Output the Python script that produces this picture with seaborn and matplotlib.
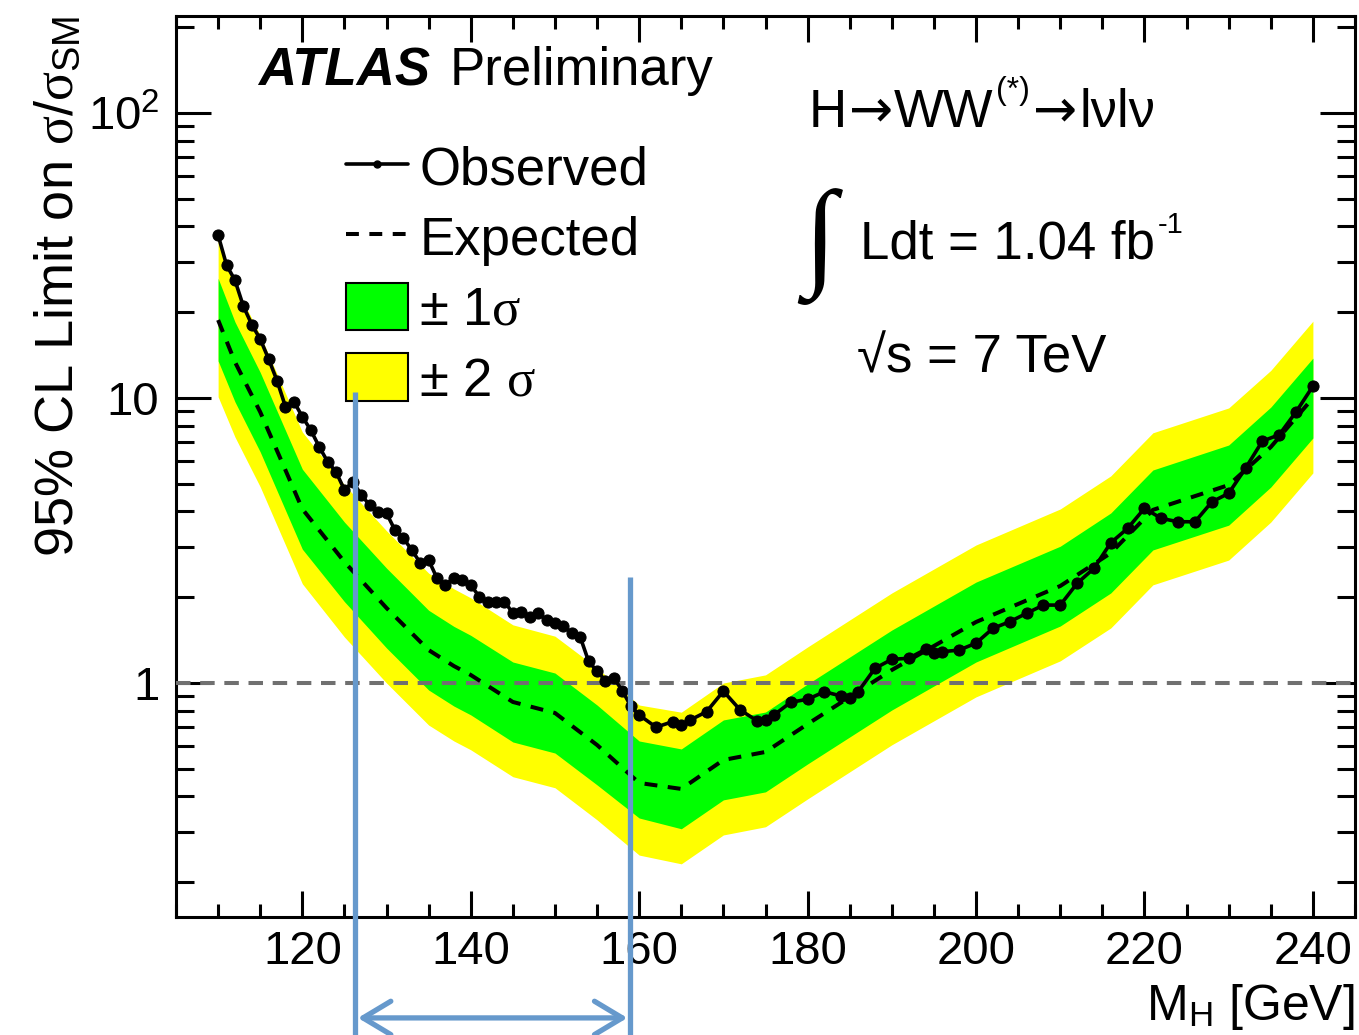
import numpy as np
import pandas as pd
import matplotlib
matplotlib.use("Agg")
import matplotlib.pyplot as plt
import matplotlib.transforms as mtransforms
from matplotlib.lines import Line2D
from matplotlib.patches import Patch
from matplotlib.ticker import FixedLocator, FixedFormatter, MultipleLocator, NullFormatter, LogLocator
import seaborn as sns

# ---------------- data ----------------
obs_mass = [110, 111, 112, 113, 114, 115, 116, 117, 118, 119,
            120, 121, 122, 123, 124, 125, 126, 127, 128, 129,
            130, 131, 132, 133, 134, 135, 136, 137, 138, 139,
            140, 141, 142, 143, 144, 145, 146, 147, 148, 149,
            150, 151, 152, 153, 154, 155, 156, 157, 158, 159,
            160, 162, 164, 165, 166, 168, 170, 172, 174, 175,
            176, 178, 180, 182, 184, 185, 186, 188, 190, 192,
            194, 195, 196, 198, 200, 202, 204, 206, 208, 210,
            212, 214, 216, 218, 220, 222, 224, 226, 228, 230,
            232, 234, 236, 238, 240]
obs_limit = [37.3, 29.3, 25.9, 21.0, 18.1, 16.1, 13.7, 11.5, 9.32, 9.71,
             8.60, 7.72, 6.75, 5.98, 5.51, 4.76, 5.09, 4.57, 4.21, 3.99,
             3.94, 3.44, 3.22, 2.93, 2.64, 2.70, 2.33, 2.21, 2.34, 2.30,
             2.21, 2.01, 1.93, 1.93, 1.93, 1.76, 1.78, 1.71, 1.76, 1.66,
             1.62, 1.58, 1.50, 1.45, 1.19, 1.10, 1.02, 1.04, 0.94, 0.83,
             0.772, 0.70, 0.732, 0.71, 0.74, 0.793, 0.936, 0.804, 0.737, 0.744,
             0.772, 0.856, 0.877, 0.932, 0.900, 0.884, 0.932, 1.126, 1.211, 1.221,
             1.313, 1.277, 1.288, 1.305, 1.38, 1.555, 1.641, 1.756, 1.877, 1.877,
             2.237, 2.525, 3.105, 3.489, 4.10, 3.78, 3.68, 3.68, 4.32, 4.63,
             5.67, 7.06, 7.43, 8.94, 11.0]

exp_mass = [110, 112, 115, 120, 125, 130, 135, 138, 140, 145, 150, 155,
            160, 165, 170, 175, 180, 190, 200, 210, 216, 221, 230, 235, 240]
exp_median = [18.78, 13.38, 8.93, 4.08, 2.66, 1.833, 1.305, 1.147, 1.067, 0.858, 0.785, 0.606,
              0.446, 0.425, 0.537, 0.573, 0.718, 1.111, 1.637, 2.19, 2.858, 4.05, 4.95, 6.73, 10.0]
exp_plus2 = [36.4, 24.9, 16.6, 7.6, 4.96, 3.42, 2.43, 2.14, 1.99, 1.60, 1.46, 1.13,
             0.837, 0.79, 1.0, 1.068, 1.338, 2.07, 3.05, 4.08, 5.33, 7.55, 9.23, 12.5, 18.6]
exp_plus1 = [26.3, 18.5, 12.3, 5.63, 3.67, 2.53, 1.80, 1.58, 1.47, 1.185, 1.084, 0.837,
             0.626, 0.587, 0.742, 0.791, 0.992, 1.534, 2.26, 3.02, 3.95, 5.59, 6.84, 9.29, 13.8]
exp_minus1 = [13.5, 9.7, 6.47, 2.95, 1.93, 1.327, 0.945, 0.830, 0.773, 0.621, 0.568, 0.439,
              0.336, 0.308, 0.389, 0.415, 0.520, 0.804, 1.185, 1.585, 2.07, 2.93, 3.58, 4.87, 7.24]
exp_minus2 = [10.1, 7.3, 4.88, 2.23, 1.45, 1.0, 0.712, 0.626, 0.583, 0.469, 0.429, 0.331,
              0.249, 0.232, 0.293, 0.313, 0.392, 0.607, 0.894, 1.196, 1.56, 2.21, 2.70, 3.67, 5.46]

y_tick_values = [1, 10, 100]
y_tick_labels = ["1", "10", r"$\mathregular{10^{2}}$"]
x_limits = [105, 245]
y_limits = [0.151, 219]
sm_reference = 1.0

# blue annotation (mass range marked below the axis)
marker_lines_mass = [126.3, 158.9]
marker_lines_top = [0.583, 0.377]   # axes fraction
arrow_mass = [126.6, 158.6]

legend_labels = ["Observed", "Expected", r"± 1$\sigma$", r"± 2 $\sigma$"]

# ---------------- style ----------------
sns.set_theme(style="ticks")
fam = ["Liberation Sans", "DejaVu Sans"]
plt.rcParams["font.family"] = fam
plt.rcParams["mathtext.fontset"] = "custom"
plt.rcParams["mathtext.rm"] = "Liberation Sans"
plt.rcParams["mathtext.it"] = "Liberation Serif"
plt.rcParams["mathtext.bf"] = "Liberation Sans:bold"
plt.rcParams["axes.linewidth"] = 2.2
plt.rcParams["axes.edgecolor"] = "black"
plt.rcParams["text.color"] = "black"
plt.rcParams["axes.labelcolor"] = "black"
plt.rcParams["xtick.color"] = "black"
plt.rcParams["ytick.color"] = "black"

fig = plt.figure(figsize=(13.59, 10.35), dpi=100)
ax = fig.add_axes([176 / 1359, (1035 - 917) / 1035, 1179 / 1359, 901 / 1035])

df_obs = pd.DataFrame({"mass": obs_mass, "limit": obs_limit})
df_exp = pd.DataFrame({"mass": exp_mass, "limit": exp_median})

ax.fill_between(exp_mass, exp_minus2, exp_plus2, color="#FFFF00", lw=0, zorder=1)
ax.fill_between(exp_mass, exp_minus1, exp_plus1, color="#00FF00", lw=0, zorder=2)
ax.axhline(sm_reference, color="#707070", lw=2.9, ls=(0, (3.6, 2.4)), zorder=3)

dash = (0, (3.2, 2.6))
sns.lineplot(data=df_exp, x="mass", y="limit", ax=ax, color="black", lw=2.9,
             linestyle=dash, zorder=4, legend=False)
sns.lineplot(data=df_obs, x="mass", y="limit", ax=ax, color="black", lw=2.6,
             marker="o", markersize=8, markeredgecolor="black", zorder=5, legend=False)

ax.set_yscale("log")
ax.set_xlim(*x_limits)
ax.set_ylim(*y_limits)

ax.xaxis.set_major_locator(MultipleLocator(20))
ax.xaxis.set_minor_locator(MultipleLocator(5))
ax.yaxis.set_major_locator(FixedLocator(y_tick_values))
ax.yaxis.set_major_formatter(FixedFormatter(y_tick_labels))
ax.yaxis.set_minor_locator(LogLocator(base=10, subs=np.arange(2, 10) * 1.0, numticks=20))
ax.yaxis.set_minor_formatter(NullFormatter())

ax.tick_params(which="both", direction="in", top=True, right=True, width=2.2, colors="black")
ax.tick_params(axis="x", which="major", length=19, labelsize=34, pad=9)
ax.tick_params(axis="x", which="minor", length=9.5)
ax.tick_params(axis="y", which="major", length=25, labelsize=34, pad=12)
ax.tick_params(axis="y", which="minor", length=13)

ax.set_xlabel(r"M$_{\rm H}$ [GeV]", fontsize=36, loc="right", labelpad=6)
ax.set_ylabel(r"95% CL Limit on $\sigma$/$\sigma_{\rm SM}$", fontsize=39, loc="top", labelpad=3)

# ---------------- legend ----------------
handles = [
    Line2D([], [], color="black", lw=2.6, marker="o", markersize=5),
    Line2D([], [], color="black", lw=2.9, linestyle=dash),
    Patch(facecolor="#00FF00", edgecolor="black", lw=1.5),
    Patch(facecolor="#FFFF00", edgecolor="black", lw=1.5),
]
ax.legend(handles, legend_labels, loc="upper left", bbox_to_anchor=(0.144, 0.859),
          frameon=False, fontsize=38, handlelength=1.17, handleheight=1.0,
          handletextpad=0.22, labelspacing=0.33, borderpad=0, borderaxespad=0)

# ---------------- texts ----------------
ax.text(0.0696, 0.923, "ATLAS", transform=ax.transAxes, fontsize=38,
        fontweight="bold", fontstyle="italic", ha="left", va="baseline")
ax.text(0.232, 0.923, "Preliminary", transform=ax.transAxes, fontsize=38,
        ha="left", va="baseline")


def chain_text(pieces, x0, y0):
    """Write consecutive text pieces on one baseline (axes coords)."""
    prev = None
    for txt, size, family, dx, dy in pieces:
        if prev is None:
            prev = ax.text(x0, y0, txt, transform=ax.transAxes, fontsize=size,
                           family=family, ha="left", va="baseline")
        else:
            prev = ax.annotate(txt, xy=(1, y0), xycoords=(prev, ax.transAxes),
                               xytext=(dx, dy), textcoords="offset points",
                               fontsize=size, family=family,
                               ha="left", va="baseline")
    return prev


chain_text([("H", 38, fam, 0, 0),
            ("→", 38, ["DejaVu Sans"], 1.0, 0),
            ("WW", 38, fam, 0.5, 0),
            ("(*)", 23, fam, 2.0, 20),
            ("→", 38, ["DejaVu Sans"], 2.0, 0),
            ("lνlν", 38, fam, 2.0, 0)], 0.537, 0.877)

ax.text(0.5455, 0.744, "∫", transform=ax.transAxes, fontsize=86,
        family=["Liberation Serif", "DejaVu Serif"], fontweight="bold",
        ha="center", va="center")
chain_text([("Ldt = 1.04 fb", 38, fam, 0, 0),
            ("-1", 21, fam, 2.0, 18)], 0.580, 0.731)
ax.text(0.578, 0.604, "√s = 7 TeV", transform=ax.transAxes, fontsize=38,
        family=fam, ha="left", va="baseline")

# ---------------- blue annotation ----------------
blue = "#6699CC"
trans = mtransforms.blended_transform_factory(ax.transData, ax.transAxes)
for xm, yt in zip(marker_lines_mass, marker_lines_top):
    ax.plot([xm, xm], [yt, -0.135], transform=trans, color=blue, lw=3.8,
            clip_on=False, zorder=6, solid_capstyle="butt")
ax.annotate("", xy=(arrow_mass[1], -0.112), xytext=(arrow_mass[0], -0.112),
            xycoords=trans, textcoords=trans, annotation_clip=False,
            arrowprops=dict(arrowstyle="<->,head_length=1.0,head_width=0.6",
                            color=blue, lw=3.8, mutation_scale=20,
                            shrinkA=0, shrinkB=0))

fig.savefig("out.png", dpi=100)
